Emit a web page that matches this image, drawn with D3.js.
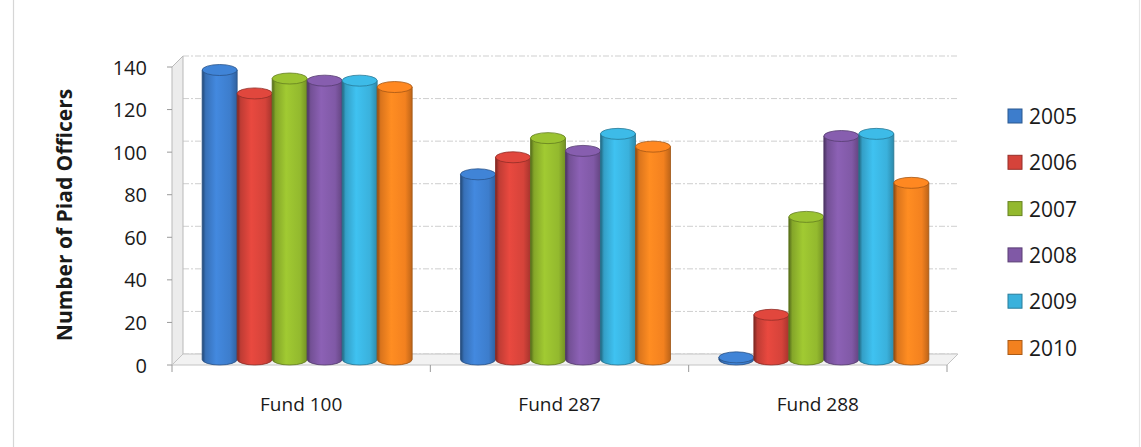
<!DOCTYPE html>
<html>
<head>
<meta charset="utf-8">
<script src="https://cdn.jsdelivr.net/npm/d3@7"></script>
<style>
  html, body { margin: 0; padding: 0; background: #fff; }
  svg { display: block; }
  text { font-family: "Open Sans", "Noto Sans", sans-serif; fill: #1a1a1a; }
</style>
</head>
<body>
<svg id="chart" width="1141" height="447"></svg>
<script>
// Paid officers per fund, 2005–2010
const categories = ["Fund 100", "Fund 287", "Fund 288"];
const years = ["2005", "2006", "2007", "2008", "2009", "2010"];
const v2005 = [136, 87, 1];
const v2006 = [125, 95, 21];
const v2007 = [132, 104, 67];
const v2008 = [131, 98, 105];
const v2009 = [131, 106, 106];
const v2010 = [128, 100, 83];
const seriesValues = [v2005, v2006, v2007, v2008, v2009, v2010];
const yTicks = [0, 20, 40, 60, 80, 100, 120, 140];
const yTitle = "Number of Piad Officers";

const colors = ["#3d7dcc", "#d5433a", "#93b92e", "#8059a6", "#3ab1dc", "#f3811f"];

const svg = d3.select("#chart");
const defs = svg.append("defs");

// Chart frame edges
svg.append("line").attr("x1", 13.5).attr("x2", 13.5).attr("y1", 0).attr("y2", 447)
  .attr("stroke", "#d6d6d6").attr("stroke-width", 1.2);
svg.append("line").attr("x1", 1139.5).attr("x2", 1139.5).attr("y1", 0).attr("y2", 447)
  .attr("stroke", "#e6e6e6").attr("stroke-width", 1.2);

// 3D plot geometry: front plane, back wall, and the depth midpoint where cylinders stand
const depthX = 11, depthY = -11;
const frontLeft = 172, frontRight = 947;
const yFront = d3.scaleLinear().domain([0, 140]).range([365, 67]);
const yBack = d3.scaleLinear().domain([0, 140]).range([365 + depthY, 67 + depthY]);
const yMid = d3.scaleLinear().domain([0, 140]).range([365 + depthY / 2, 67 + depthY / 2]);

const x0 = d3.scaleBand().domain(categories).range([frontLeft, frontRight]).paddingInner(0).paddingOuter(0);
const groupWidth = 210;
const x1 = d3.scaleBand().domain(years).range([0, groupWidth]).padding(0);
const groupShift = 6;

// Back wall gridlines
const grid = svg.append("g");
grid.selectAll("line").data(yTicks).join("line")
  .attr("x1", frontLeft + depthX).attr("x2", frontRight + depthX)
  .attr("y1", d => yBack(d)).attr("y2", d => yBack(d))
  .attr("stroke", "#cfcfcf").attr("stroke-width", 1)
  .attr("stroke-dasharray", "6,2,2,2");

// Side wall
svg.append("path")
  .attr("d", `M${frontLeft},${yFront(140)} L${frontLeft + depthX},${yBack(140)} L${frontLeft + depthX},${yBack(0)} L${frontLeft},${yFront(0)} Z`)
  .attr("fill", "#ececec").attr("stroke", "#b9b9b9").attr("stroke-width", 1);

// Floor
svg.append("path")
  .attr("d", `M${frontLeft},${yFront(0)} L${frontRight},${yFront(0)} L${frontRight + depthX},${yBack(0)} L${frontLeft + depthX},${yBack(0)} Z`)
  .attr("fill", "#f2f2f2").attr("stroke", "#c4c4c4").attr("stroke-width", 1);

// Value axis ticks and labels
const yAxis = svg.append("g");
yAxis.selectAll("line").data(yTicks).join("line")
  .attr("x1", frontLeft - 5).attr("x2", frontLeft)
  .attr("y1", d => yFront(d)).attr("y2", d => yFront(d))
  .attr("stroke", "#9a9a9a");
yAxis.selectAll("text").data(yTicks).join("text")
  .attr("x", 147).attr("y", d => yFront(d))
  .attr("text-anchor", "end").attr("dominant-baseline", "central")
  .attr("font-size", 20).text(d => d);

// Category ticks and labels
const catEdges = categories.map(c => x0(c)).concat([frontRight]);
svg.append("g").selectAll("line").data(catEdges).join("line")
  .attr("x1", d => d).attr("x2", d => d)
  .attr("y1", yFront(0)).attr("y2", yFront(0) + 7)
  .attr("stroke", "#9a9a9a");
svg.append("g").selectAll("text").data(categories).join("text")
  .attr("x", d => x0(d) + x0.bandwidth() / 2)
  .attr("y", 404)
  .attr("text-anchor", "middle").attr("dominant-baseline", "central")
  .attr("font-size", 19).text(d => d);

// Axis title
svg.append("text")
  .attr("transform", "translate(64,215) rotate(-90)")
  .attr("text-anchor", "middle").attr("dominant-baseline", "central")
  .attr("font-size", 21).attr("font-weight", "bold").text(yTitle);

// Cylinder shading per series
colors.forEach((c, i) => {
  const col = d3.color(c);
  const g = defs.append("linearGradient").attr("id", "cyl" + i)
    .attr("x1", "0").attr("x2", "1").attr("y1", "0").attr("y2", "0");
  g.append("stop").attr("offset", "0").attr("stop-color", col.darker(1.6));
  g.append("stop").attr("offset", "0.1").attr("stop-color", col.darker(0.3));
  g.append("stop").attr("offset", "0.4").attr("stop-color", col.brighter(0.25));
  g.append("stop").attr("offset", "0.8").attr("stop-color", col);
  g.append("stop").attr("offset", "1").attr("stop-color", col.darker(0.7));
});

// Cylinders
const ry = 5.5;
const bars = svg.append("g");
categories.forEach((cat, ci) => {
  years.forEach((yr, si) => {
    const v = seriesValues[si][ci];
    const xl = x0(cat) + x0.bandwidth() / 2 - groupWidth / 2 + groupShift + x1(yr);
    const w = x1.bandwidth();
    const rx = w / 2;
    const yt = yMid(v), yb = yMid(0);
    const col = d3.color(colors[si]);
    const g = bars.append("g");
    g.append("path")
      .attr("d", `M${xl},${yt} L${xl},${yb} A${rx},${ry} 0 0 0 ${xl + w},${yb} L${xl + w},${yt} Z`)
      .attr("fill", `url(#cyl${si})`)
      .attr("stroke", col.darker(1.2)).attr("stroke-width", 0.8);
    g.append("ellipse")
      .attr("cx", xl + rx).attr("cy", yt).attr("rx", rx).attr("ry", ry)
      .attr("fill", col.brighter(0.15))
      .attr("stroke", col.darker(1.1)).attr("stroke-width", 0.8);
  });
});

// Legend
const legend = svg.append("g");
years.forEach((yr, i) => {
  const ly = 116 + i * 46.3;
  const col = d3.color(colors[i]);
  legend.append("rect")
    .attr("x", 1008).attr("y", ly - 7).attr("width", 14).attr("height", 14)
    .attr("fill", col).attr("stroke", col.darker(1)).attr("stroke-width", 1);
  legend.append("text")
    .attr("x", 1029).attr("y", ly)
    .attr("dominant-baseline", "central")
    .attr("font-size", 21).text(yr);
});
</script>
</body>
</html>
